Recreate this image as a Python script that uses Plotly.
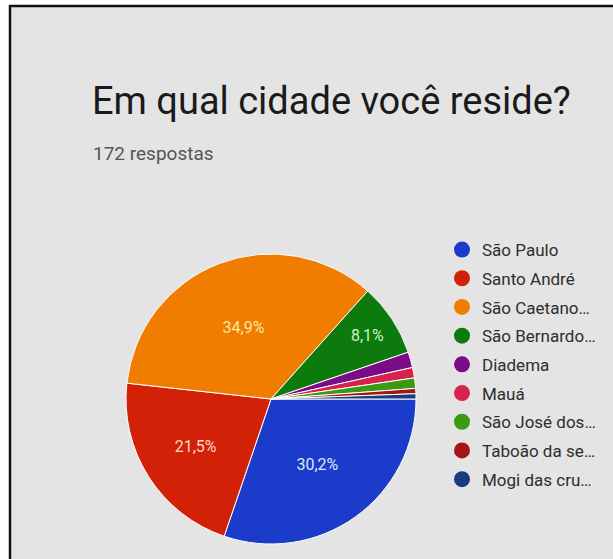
import plotly.graph_objects as go

# ---- data ----
cities = ["São Paulo", "Santo André", "São Caetano…", "São Bernardo…", "Diadema",
          "Mauá", "São José dos…", "Taboão da se…", "Mogi das cru…"]
responses = [52, 37, 60, 14, 3, 2, 2, 1, 1]
colors = ["#1b3ccb", "#d32108", "#f07c00", "#0c7a0c", "#7b0b86",
          "#d8224e", "#3a9a12", "#a81414", "#173d80"]
label_colors = ["#dfe6ff", "#ffd6cc", "#ffe7a0", "#cdf2c4"]
title_text = "Em qual cidade você reside?"
subtitle_text = "172 respostas"

W, H = 613, 559

def px(x):
    return x / W

def py(y):
    return 1 - y / H

templates = ["%{percent:.1%}" if v / sum(responses) > 0.05 else "" for v in responses]
tcolors = label_colors + ["#ffffff"] * (len(responses) - len(label_colors))

fig = go.Figure()
fig.add_trace(go.Pie(
    labels=cities, values=responses, sort=False, direction="clockwise", rotation=90,
    marker=dict(colors=colors, line=dict(color="#ffffff", width=1)),
    texttemplate=templates, textposition="inside", insidetextorientation="horizontal",
    textfont=dict(family="Roboto", size=16, color=tcolors),
    showlegend=False, hoverinfo="label+percent",
    domain=dict(x=[px(126), px(416)], y=[py(544), py(254)]),
))

for name, col in zip(cities, colors):
    fig.add_trace(go.Scatter(
        x=[None], y=[None], mode="markers", name=name, legendgroup=name,
        marker=dict(symbol="circle", size=16, color=col),
    ))

fig.update_layout(
    width=W, height=H, margin=dict(l=0, r=0, t=0, b=0),
    paper_bgcolor="#ffffff", plot_bgcolor="rgba(0,0,0,0)",
    separators=",.",
    xaxis=dict(visible=False), yaxis=dict(visible=False),
    showlegend=True,
    legend=dict(x=px(442), xanchor="left", y=py(232), yanchor="top",
                font=dict(family="Roboto", size=17, color="#2e2e2e"),
                bgcolor="rgba(0,0,0,0)", tracegroupgap=3.6, itemsizing="trace"),
    shapes=[
        dict(type="rect", xref="paper", yref="paper", x0=px(9), x1=1.01, y0=-0.01, y1=py(5),
             fillcolor="#e4e4e4", line=dict(width=0), layer="below"),
        dict(type="line", xref="paper", yref="paper", x0=px(10), x1=px(10), y0=-0.01, y1=py(5),
             line=dict(color="#111111", width=2.5)),
        dict(type="line", xref="paper", yref="paper", x0=px(9), x1=1.01, y0=py(6), y1=py(6),
             line=dict(color="#111111", width=2.5)),
    ],
    annotations=[
        dict(text=title_text, xref="paper", yref="paper", x=px(90), y=py(101),
             xanchor="left", yanchor="middle", showarrow=False,
             font=dict(family="Roboto", size=38, color="#1a1a1a")),
        dict(text=subtitle_text, xref="paper", yref="paper", x=px(91), y=py(153),
             xanchor="left", yanchor="middle", showarrow=False,
             font=dict(family="Roboto", size=19, color="#555555")),
    ],
)

fig.write_html("out.html")
